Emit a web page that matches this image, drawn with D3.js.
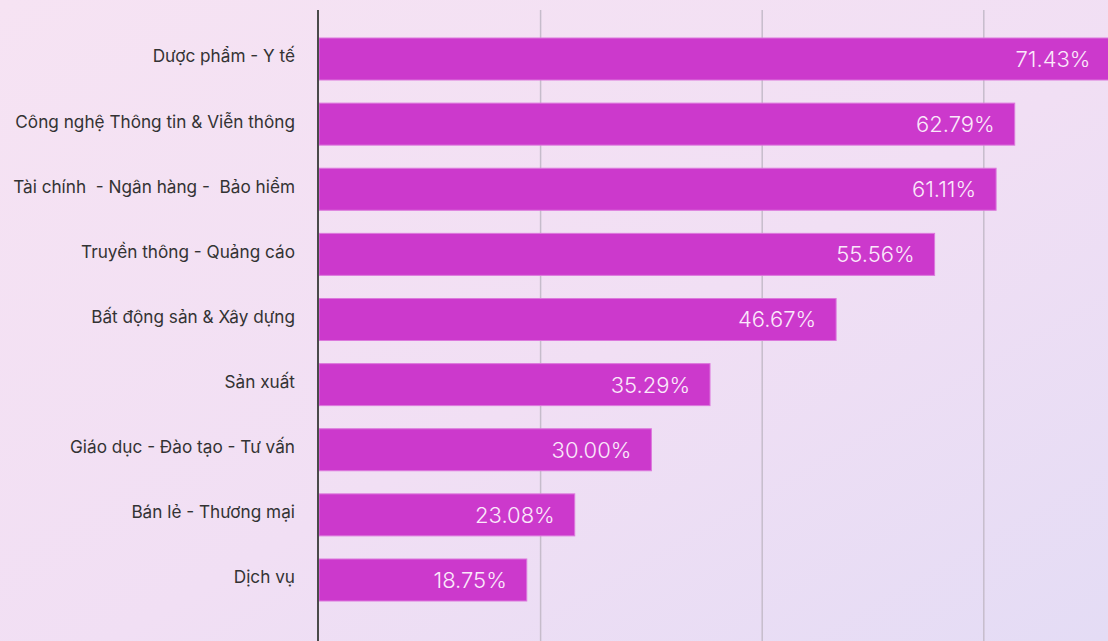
<!DOCTYPE html>
<html>
<head>
<meta charset="utf-8">
<script src="https://cdn.jsdelivr.net/npm/d3@7"></script>
<style>
  html, body { margin: 0; padding: 0; }
  body { width: 1108px; height: 641px; overflow: hidden; }
</style>
</head>
<body>
<script>
// Ngành nghề en tỉ lệ
const categories = [
	'Dược phẩm - Y tế',
	'Công nghệ Thông tin & Viễn thông',
	'Tài chính  - Ngân hàng -  Bảo hiểm',
	'Truyền thông - Quảng cáo',
	'Bất động sản & Xây dựng',
	'Sản xuất',
	'Giáo dục - Đào tạo - Tư vấn',
	'Bán lẻ - Thương mại',
	'Dịch vụ'
]
const values = [71.43, 62.79, 61.11, 55.56, 46.67, 35.29, 30.0, 23.08, 18.75]
const gridTicks = [20, 40, 60]

const W = 1108
const H = 641
const margin = { top: 38, bottom: 40, left: 319 }

const svg = d3.select('body').append('svg').attr('width', W).attr('height', H)

// achtergrond verloop
const defs = svg.append('defs')
const grad = defs
	.append('linearGradient')
	.attr('id', 'bg')
	.attr('x1', '0%')
	.attr('y1', '0%')
	.attr('x2', '100%')
	.attr('y2', '100%')
grad.append('stop').attr('offset', '0%').attr('stop-color', '#f6e3f3')
grad.append('stop').attr('offset', '55%').attr('stop-color', '#f1dff4')
grad.append('stop').attr('offset', '100%').attr('stop-color', '#e4dcf5')
svg.append('rect').attr('width', W).attr('height', H).attr('fill', 'url(#bg)')

const xscale = d3.scaleLinear().domain([0, 20]).range([margin.left, margin.left + 221.6])
const yscale = d3
	.scaleBand()
	.domain(categories)
	.range([margin.top, H - margin.bottom])
	.paddingInner(0.355)
	.paddingOuter(0)

// gridlines
svg.append('g')
	.selectAll('line')
	.data(gridTicks)
	.join('line')
	.attr('x1', d => xscale(d))
	.attr('x2', d => xscale(d))
	.attr('y1', 10)
	.attr('y2', H)
	.attr('stroke', '#c6bccb')
	.attr('stroke-width', 1.5)

// bars
svg.append('g')
	.selectAll('rect')
	.data(values)
	.join('rect')
	.attr('x', xscale(0))
	.attr('y', (d, i) => yscale(categories[i]))
	.attr('width', d => xscale(d) - xscale(0))
	.attr('height', yscale.bandwidth())
	.attr('fill', '#cc39cc')
	.attr('stroke', '#dc78dc')
	.attr('stroke-width', 1)

// y axis
const yaxis = d3.axisLeft(yscale).tickSize(0).tickPadding(24)
const g_yaxis = svg.append('g').attr('transform', `translate(${xscale(0)},0)`).call(yaxis)
g_yaxis.select('.domain').remove()
g_yaxis
	.selectAll('text')
	.attr('font-family', 'Inter, sans-serif')
	.attr('font-size', 17.2)
	.attr('fill', '#333')
	.attr('dy', '0.2em')
	.style('white-space', 'pre')

svg.append('line')
	.attr('x1', xscale(0) - 1)
	.attr('x2', xscale(0) - 1)
	.attr('y1', 10)
	.attr('y2', H)
	.attr('stroke', '#4a4a4a')
	.attr('stroke-width', 2)

// waarde labels
svg.append('g')
	.selectAll('text')
	.data(values)
	.join('text')
	.attr('x', d => xscale(d) - 20)
	.attr('y', (d, i) => yscale(categories[i]) + yscale.bandwidth() / 2)
	.attr('dy', '0.36em')
	.attr('text-anchor', 'end')
	.attr('font-family', 'Inter, sans-serif')
	.attr('font-size', 22)
	.attr('font-weight', 300)
	.attr('fill', '#fbe9fb')
	.text(d => d.toFixed(2) + '%')
</script>
</body>
</html>
